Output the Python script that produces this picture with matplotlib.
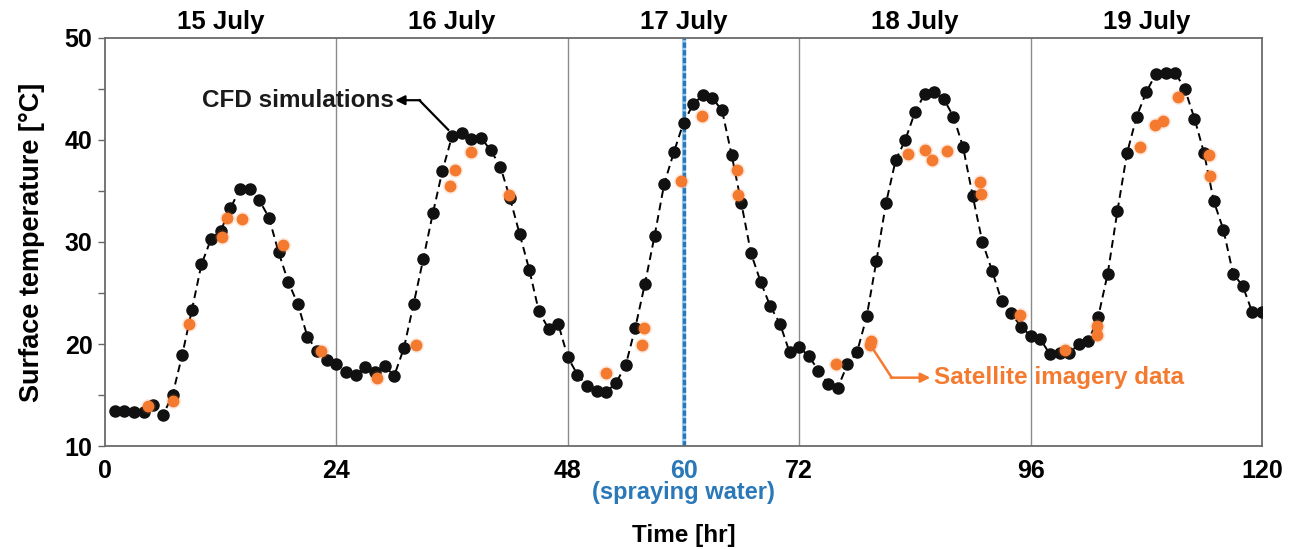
import numpy as np
import matplotlib
matplotlib.use("Agg")
import matplotlib.pyplot as plt

plt.rcParams["font.family"] = ["Liberation Sans", "DejaVu Sans"]
plt.rcParams["font.weight"] = "bold"

# CFD surface temperature, hourly from t = 1 h to t = 120 h
cfd_hours = np.arange(1, 121)
cfd_temp = [
    13.4, 13.4, 13.3, 13.3, 14.0, 13.0, 15.0, 18.9, 23.3, 27.8, 30.3, 31.1,
    33.3, 35.2, 35.2, 34.1, 32.4, 29.0, 26.1, 23.9, 20.7, 19.3, 18.4, 18.0,
    17.3, 17.0, 17.7, 17.3, 17.8, 16.9, 19.6, 23.9, 28.3, 32.8, 37.0, 40.4,
    40.7, 40.1, 40.2, 39.0, 37.4, 34.3, 30.8, 27.3, 23.2, 21.5, 22.0, 18.7,
    17.0, 15.9, 15.4, 15.3, 16.2, 17.9, 21.6, 25.9, 30.6, 35.7, 38.8, 41.7,
    43.5, 44.4, 44.1, 42.9, 38.5, 33.8, 28.9, 26.1, 23.7, 22.0, 19.2, 19.7,
    18.8, 17.4, 16.1, 15.7, 18.0, 19.2, 22.7, 28.1, 33.8, 38.0, 40.0, 42.7,
    44.5, 44.7, 44.0, 42.3, 39.3, 34.5, 30.0, 27.2, 24.2, 23.0, 21.7, 20.8,
    20.5, 19.0, 19.1, 19.1, 20.0, 20.3, 22.6, 26.9, 33.0, 38.7, 42.3, 44.7,
    46.5, 46.6, 46.6, 45.0, 42.1, 38.7, 34.0, 31.2, 26.9, 25.7, 23.1, 23.1,
]

# satellite imagery observations
sat_hours = [
    4.5, 7.0, 8.7, 12.1, 12.7, 14.2, 18.5, 22.4,
    28.2, 32.3, 35.8, 36.3, 38.0, 41.9,
    52.0, 55.7, 55.9, 59.7, 61.9, 65.5, 65.7,
    75.8, 79.3, 79.4, 83.3, 85.1, 85.8, 87.3, 90.8, 90.9, 94.9,
    99.6, 102.9, 102.9, 107.3, 108.9, 109.7, 111.3, 114.5, 114.6,
]
sat_temp = [
    13.9, 14.4, 22.0, 30.5, 32.4, 32.3, 29.7, 19.3,
    16.7, 19.9, 35.5, 37.1, 38.8, 34.6,
    17.2, 19.9, 21.6, 36.0, 42.4, 37.1, 34.6,
    18.0, 19.9, 20.3, 38.6, 39.0, 38.0, 38.9, 35.9, 34.7, 22.8,
    19.4, 21.8, 20.9, 39.3, 41.5, 41.9, 44.2, 38.5, 36.5,
]

day_labels = ["15 July", "16 July", "17 July", "18 July", "19 July"]
day_bounds = [24, 48, 72, 96]
x_ticks = [0, 24, 48, 60, 72, 96, 120]
spray_hour = 60

orange = "#f47a30"
blue = "#2a78b8"

fig = plt.figure(figsize=(12.95, 5.49), dpi=100)
ax = fig.add_axes([0.0811, 0.1876, 0.8934, 0.7432])

for b in day_bounds:
    ax.axvline(b, color="#8a8a8a", lw=1.0, zorder=1)

# water spraying event
ax.axvline(spray_hour, color="#9cc8ea", lw=3.0, zorder=1)
ax.axvline(spray_hour, color=blue, lw=2.4, ls=(0, (1.6, 0.7)), zorder=2)

ax.plot(cfd_hours, cfd_temp, color="black", ls=(0, (4, 2.5)), lw=1.4,
        marker="o", ms=8, mfc="#111111", mec="#111111", zorder=3)
ax.plot(sat_hours, sat_temp, ls="none", marker="o", ms=11, mfc=orange,
        mec="none", alpha=0.15, zorder=4)
ax.plot(sat_hours, sat_temp, ls="none", marker="o", ms=7.5, mfc=orange,
        mec=orange, zorder=5)

ax.set_xlim(0, 120)
ax.set_ylim(10, 50)
ax.set_xticks(x_ticks)
ax.set_yticks(np.arange(10, 51, 10))
ax.set_yticks(np.arange(15, 50, 10), minor=True)
ax.tick_params(axis="x", length=0, pad=9, labelsize=18)
ax.tick_params(axis="y", which="both", direction="out", length=5,
               width=1, color="#666666", pad=4, labelsize=18)
for lbl in ax.get_xticklabels():
    if lbl.get_text() == str(spray_hour):
        lbl.set_color(blue)
for s in ax.spines.values():
    s.set_color("#6a6a6a")
    s.set_linewidth(1.3)

ax.set_ylabel("Surface temperature [°C]", fontsize=19.5, fontweight="bold", labelpad=14)
ax.set_xlabel("Time [hr]", fontsize=17.5, fontweight="bold", labelpad=30)
ax.text(spray_hour, -0.115, "(spraying water)", transform=ax.get_xaxis_transform(),
        ha="center", va="center", color=blue, fontsize=17, fontweight="bold")

for i, d in enumerate(day_labels):
    ax.text(12 + 24 * i, 1.04, d, transform=ax.get_xaxis_transform(),
            ha="center", va="center", fontsize=18.5, fontweight="bold")

# annotations
ax.text(30.0, 43.9, "CFD simulations", ha="right", va="center",
        fontsize=17.5, fontweight="bold", color="#1a1a1a")
ax.plot([35.6, 32.6], [41.0, 43.9], color="black", lw=1.6, zorder=6)
ax.annotate("", xy=(30.1, 43.9), xytext=(32.7, 43.9),
            arrowprops=dict(arrowstyle="-|>", color="black", lw=1.6,
                            mutation_scale=14, shrinkA=0, shrinkB=0))

ax.plot([79.8, 81.6], [19.3, 16.7], color=orange, lw=1.8, zorder=6)
ax.annotate("", xy=(85.6, 16.7), xytext=(81.5, 16.7),
            arrowprops=dict(arrowstyle="-|>", color=orange, lw=1.8,
                            mutation_scale=14, shrinkA=0, shrinkB=0))
ax.text(86.0, 16.7, "Satellite imagery data", ha="left", va="center",
        fontsize=17.5, fontweight="bold", color=orange)

fig.savefig("out.png", dpi=100)
